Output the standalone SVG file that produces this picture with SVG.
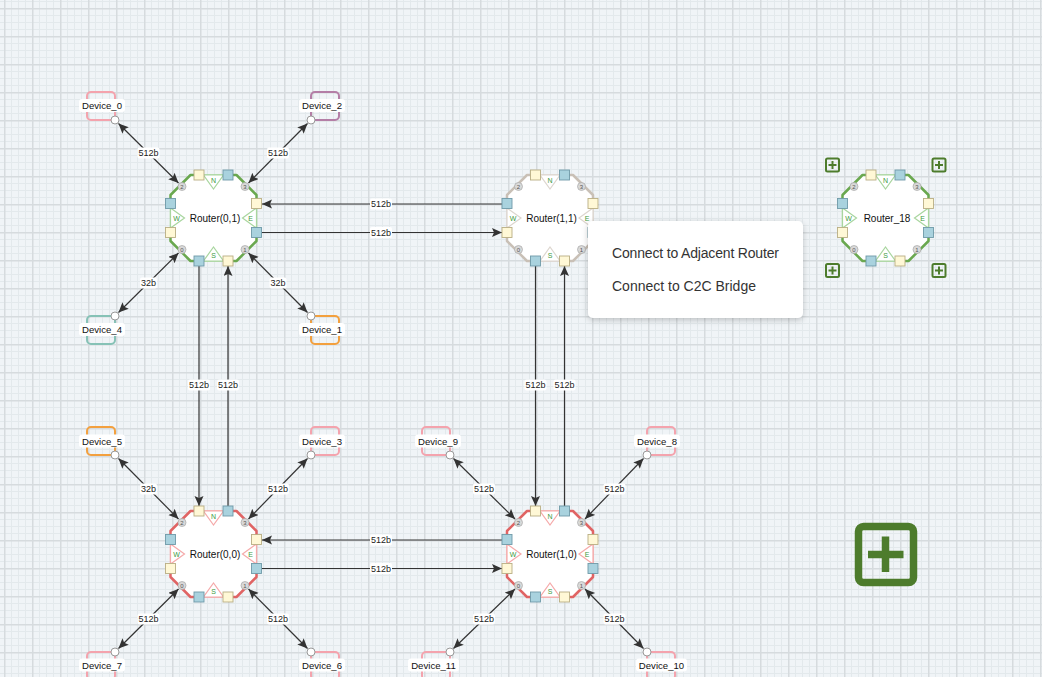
<svg xmlns="http://www.w3.org/2000/svg" xmlns:xlink="http://www.w3.org/1999/xlink" width="1042" height="684" viewBox="0 0 1042 684">
  <style>
    text { font-family: "Liberation Sans", Arial, sans-serif; stroke: none; }
    .rlabel { font-size: 10px; fill: #111; text-anchor: middle; dominant-baseline: central; }
    .dlabel { font-size: 9.6px; fill: #111; text-anchor: middle; dominant-baseline: central; }
    .dlabel-bg { fill: #fff; }
    .dbox { fill: none; stroke-width: 2; }
    .dport { fill: #fff; stroke: #999; stroke-width: 1; }
    .pink { stroke: #f4a3ad; }
    .purple { stroke: #b47ea6; }
    .teal { stroke: #86c2b6; }
    .orange { stroke: #f3a03e; }
    .link { stroke: #333; stroke-width: 1.2; fill: none; }
    .elabel { font-size: 9px; fill: #222; text-anchor: middle; dominant-baseline: central; }
    .elabel-bg { fill: #fff; }
    .dir { font-size: 7px; fill: #3d9a3d; stroke: none; text-anchor: middle; dominant-baseline: central; }
    .cnum { font-size: 6px; fill: #555; stroke: none; text-anchor: middle; dominant-baseline: central; }
    .menu-item { font-size: 14px; fill: #333; }
    .icon { fill: none; stroke: #4d7c2c; }
  </style>
  <defs>
    <pattern id="grid" x="4" y="8" width="28" height="28" patternUnits="userSpaceOnUse">
      <rect width="28" height="28" fill="#f0f4f7"/>
      <rect x="7" y="0" width="1" height="28" fill="#e3e9ec"/>
      <rect x="14" y="0" width="1" height="28" fill="#e3e9ec"/>
      <rect x="21" y="0" width="1" height="28" fill="#e3e9ec"/>
      <rect x="0" y="7" width="28" height="1" fill="#e3e9ec"/>
      <rect x="0" y="14" width="28" height="1" fill="#e3e9ec"/>
      <rect x="0" y="21" width="28" height="1" fill="#e3e9ec"/>
      <rect x="0" y="0" width="1.5" height="28" fill="#d6dbde"/>
      <rect x="0" y="0" width="28" height="1.5" fill="#d6dbde"/>
    </pattern>
    <marker id="arrow" markerUnits="userSpaceOnUse" markerWidth="12" markerHeight="10" refX="10" refY="4.5" orient="auto-start-reverse">
      <path d="M0,0 L10,4.5 L0,9 L2,4.5 Z" fill="#333"/>
    </marker>
    <filter id="shadow" x="-10%" y="-20%" width="120%" height="150%">
      <feDropShadow dx="0" dy="2" stdDeviation="3" flood-color="#000" flood-opacity="0.22"/>
    </filter>
    <!-- router body: border colour from `color`, triangle outline from `stroke` -->
    <g id="router-body">
      <polygon points="-23,-43 23,-43 43,-23 43,23 23,43 -23,43 -43,23 -43,-23" fill="#fff" stroke="none"/>
      <path d="M-14.5,-43 H-23 L-43,-23 V-14.5 M-43,14.5 V23 L-23,43 H-14.5 M14.5,43 H23 L43,23 V14.5 M43,-14.5 V-23 L23,-43 H14.5" fill="none" stroke="currentColor" stroke-width="2.5" stroke-linejoin="round"/>
      <path d="M-14.5,-43 H14.5 M-14.5,43 H14.5 M-43,-14.5 V14.5 M43,-14.5 V14.5" fill="none" stroke-width="1.4"/>
      <path d="M-10,-43 L10,-43 L0,-29 Z M-10,43 L10,43 L0,29 Z M-43,-10 L-43,10 L-29,0 Z M43,-10 L43,10 L29,0 Z" fill="#fff" stroke-width="1.2" stroke-linejoin="miter"/>
      <text class="dir" x="0" y="-37.5">N</text>
      <text class="dir" x="0" y="37.5">S</text>
      <text class="dir" x="-37" y="0.5">W</text>
      <text class="dir" x="37" y="0.5">E</text>
      <!-- ports: cream = in, blue = out -->
      <g stroke-width="0.9">
        <rect x="-19.5" y="-48" width="10" height="10" fill="#fff8d6" stroke="#b9ae84"/>
        <rect x="9.5" y="-48" width="10" height="10" fill="#a9d2de" stroke="#6f9aa8"/>
        <rect x="-48" y="-19.5" width="10" height="10" fill="#a9d2de" stroke="#6f9aa8"/>
        <rect x="-48" y="9.5" width="10" height="10" fill="#fff8d6" stroke="#b9ae84"/>
        <rect x="38" y="-19.5" width="10" height="10" fill="#fff8d6" stroke="#b9ae84"/>
        <rect x="38" y="9.5" width="10" height="10" fill="#a9d2de" stroke="#6f9aa8"/>
        <rect x="-19.5" y="38" width="10" height="10" fill="#a9d2de" stroke="#6f9aa8"/>
        <rect x="9.5" y="38" width="10" height="10" fill="#fff8d6" stroke="#b9ae84"/>
      </g>
      <g fill="#d9d9d9" stroke="#a8a8a8" stroke-width="0.7">
        <circle cx="-31.5" cy="-31.5" r="4"/>
        <circle cx="31.5" cy="-31.5" r="4"/>
        <circle cx="-31.5" cy="31.5" r="4"/>
        <circle cx="31.5" cy="31.5" r="4"/>
      </g>
      <text class="cnum" x="-31.5" y="-31.5">2</text>
      <text class="cnum" x="31.5" y="-31.5">3</text>
      <text class="cnum" x="-31.5" y="31.5">0</text>
      <text class="cnum" x="31.5" y="31.5">1</text>
    </g>
    <g id="plus-small">
      <rect x="-6.5" y="-6.5" width="13" height="13" rx="1.5" class="icon" stroke-width="2"/>
      <path d="M-4,0 H4 M0,-4 V4" class="icon" stroke-width="2"/>
    </g>
  </defs>

  <!-- canvas -->
  <rect width="1042" height="684" fill="url(#grid)"/>

  <!-- connectors -->
  <g id="connectors">
    <!-- device links, Router(0,1) -->
    <line class="link" x1="118.5" y1="123.5" x2="178.5" y2="183" marker-start="url(#arrow)" marker-end="url(#arrow)"/>
    <line class="link" x1="307.5" y1="123.5" x2="248.5" y2="183" marker-start="url(#arrow)" marker-end="url(#arrow)"/>
    <line class="link" x1="118.5" y1="312.5" x2="178.5" y2="253" marker-start="url(#arrow)" marker-end="url(#arrow)"/>
    <line class="link" x1="307.5" y1="312.5" x2="248.5" y2="253" marker-start="url(#arrow)" marker-end="url(#arrow)"/>
    <!-- device links, Router(0,0) -->
    <line class="link" x1="118.5" y1="458.5" x2="178.5" y2="519" marker-start="url(#arrow)" marker-end="url(#arrow)"/>
    <line class="link" x1="307.5" y1="458.5" x2="248.5" y2="519" marker-start="url(#arrow)" marker-end="url(#arrow)"/>
    <line class="link" x1="118.5" y1="648.5" x2="178.5" y2="589" marker-start="url(#arrow)" marker-end="url(#arrow)"/>
    <line class="link" x1="307.5" y1="648.5" x2="248.5" y2="589" marker-start="url(#arrow)" marker-end="url(#arrow)"/>
    <!-- device links, Router(1,0) -->
    <line class="link" x1="453.5" y1="458.5" x2="515" y2="519" marker-start="url(#arrow)" marker-end="url(#arrow)"/>
    <line class="link" x1="643.5" y1="458.5" x2="585" y2="519" marker-start="url(#arrow)" marker-end="url(#arrow)"/>
    <line class="link" x1="453.5" y1="648.5" x2="515" y2="589" marker-start="url(#arrow)" marker-end="url(#arrow)"/>
    <line class="link" x1="643.5" y1="648.5" x2="585" y2="589" marker-start="url(#arrow)" marker-end="url(#arrow)"/>
    <!-- router to router -->
    <line class="link" x1="502" y1="204" x2="262" y2="204" marker-end="url(#arrow)"/>
    <line class="link" x1="262" y1="232.5" x2="502" y2="232.5" marker-end="url(#arrow)"/>
    <line class="link" x1="199" y1="266" x2="199" y2="506" marker-end="url(#arrow)"/>
    <line class="link" x1="228" y1="506" x2="228" y2="266" marker-end="url(#arrow)"/>
    <line class="link" x1="535.5" y1="266" x2="535.5" y2="506" marker-end="url(#arrow)"/>
    <line class="link" x1="564.5" y1="506" x2="564.5" y2="266" marker-end="url(#arrow)"/>
    <line class="link" x1="502" y1="540" x2="262" y2="540" marker-end="url(#arrow)"/>
    <line class="link" x1="262" y1="568.5" x2="502" y2="568.5" marker-end="url(#arrow)"/>

    <!-- width labels -->
    <g>
      <rect class="elabel-bg" x="137.5" y="147.5" width="22" height="11" rx="2"/><text class="elabel" x="148.5" y="153">512b</text>
      <rect class="elabel-bg" x="267" y="147.5" width="22" height="11" rx="2"/><text class="elabel" x="278" y="153">512b</text>
      <rect class="elabel-bg" x="140" y="277.5" width="17" height="11" rx="2"/><text class="elabel" x="148.5" y="283">32b</text>
      <rect class="elabel-bg" x="269.5" y="277.5" width="17" height="11" rx="2"/><text class="elabel" x="278" y="283">32b</text>
      <rect class="elabel-bg" x="140" y="483.5" width="17" height="11" rx="2"/><text class="elabel" x="148.5" y="489">32b</text>
      <rect class="elabel-bg" x="267" y="483.5" width="22" height="11" rx="2"/><text class="elabel" x="278" y="489">512b</text>
      <rect class="elabel-bg" x="137.5" y="613.5" width="22" height="11" rx="2"/><text class="elabel" x="148.5" y="619">512b</text>
      <rect class="elabel-bg" x="267" y="613.5" width="22" height="11" rx="2"/><text class="elabel" x="278" y="619">512b</text>
      <rect class="elabel-bg" x="473" y="483.5" width="22" height="11" rx="2"/><text class="elabel" x="484" y="489">512b</text>
      <rect class="elabel-bg" x="603.5" y="483.5" width="22" height="11" rx="2"/><text class="elabel" x="614.5" y="489">512b</text>
      <rect class="elabel-bg" x="473" y="613.5" width="22" height="11" rx="2"/><text class="elabel" x="484" y="619">512b</text>
      <rect class="elabel-bg" x="603.5" y="613.5" width="22" height="11" rx="2"/><text class="elabel" x="614.5" y="619">512b</text>
      <rect class="elabel-bg" x="370" y="198.5" width="22" height="11" rx="2"/><text class="elabel" x="381" y="204">512b</text>
      <rect class="elabel-bg" x="370" y="227" width="22" height="11" rx="2"/><text class="elabel" x="381" y="232.5">512b</text>
      <rect class="elabel-bg" x="188" y="379.5" width="22" height="11" rx="2"/><text class="elabel" x="199" y="385">512b</text>
      <rect class="elabel-bg" x="217" y="379.5" width="22" height="11" rx="2"/><text class="elabel" x="228" y="385">512b</text>
      <rect class="elabel-bg" x="524.5" y="379.5" width="22" height="11" rx="2"/><text class="elabel" x="535.5" y="385">512b</text>
      <rect class="elabel-bg" x="553.5" y="379.5" width="22" height="11" rx="2"/><text class="elabel" x="564.5" y="385">512b</text>
      <rect class="elabel-bg" x="370" y="534.5" width="22" height="11" rx="2"/><text class="elabel" x="381" y="540">512b</text>
      <rect class="elabel-bg" x="370" y="563" width="22" height="11" rx="2"/><text class="elabel" x="381" y="568.5">512b</text>
    </g>
  </g>

  <!-- routers -->
  <g id="router-0-1">
    <use href="#router-body" x="213.5" y="218" color="#6aa84f" stroke="#a9d69f"/>
    <text class="rlabel" x="215" y="218">Router(0,1)</text>
  </g>
  <g id="router-1-1">
    <use href="#router-body" x="550" y="218" color="#c9c0b6" stroke="#ddd6cf"/>
    <text class="rlabel" x="551.5" y="218">Router(1,1)</text>
  </g>
  <g id="router-0-0">
    <use href="#router-body" x="213.5" y="554" color="#e06464" stroke="#f5aaaa"/>
    <text class="rlabel" x="215" y="554">Router(0,0)</text>
  </g>
  <g id="router-1-0">
    <use href="#router-body" x="550" y="554" color="#e06464" stroke="#f5aaaa"/>
    <text class="rlabel" x="551.5" y="554">Router(1,0)</text>
  </g>
  <g id="router-18">
    <use href="#router-body" x="885.5" y="218" color="#6aa84f" stroke="#a9d69f"/>
    <text class="rlabel" x="887" y="218">Router_18</text>
    <use href="#plus-small" x="832.5" y="165"/>
    <use href="#plus-small" x="939" y="165"/>
    <use href="#plus-small" x="832.5" y="270.5"/>
    <use href="#plus-small" x="939" y="270.5"/>
  </g>

  <!-- devices -->
  <g id="device-0">
    <rect class="dbox pink" x="87" y="92" width="28" height="28" rx="4"/>
    <rect class="dlabel-bg" x="79" y="99" width="46" height="13" rx="3"/>
    <text class="dlabel" x="102" y="105.5">Device_0</text>
    <circle class="dport" cx="115" cy="120" r="4"/>
  </g>
  <g id="device-2">
    <rect class="dbox purple" x="311" y="92" width="28" height="28" rx="4"/>
    <rect class="dlabel-bg" x="299" y="99" width="46" height="13" rx="3"/>
    <text class="dlabel" x="322" y="105.5">Device_2</text>
    <circle class="dport" cx="311" cy="120" r="4"/>
  </g>
  <g id="device-4">
    <rect class="dbox teal" x="87" y="316" width="28" height="28" rx="4"/>
    <rect class="dlabel-bg" x="79" y="323" width="46" height="13" rx="3"/>
    <text class="dlabel" x="102" y="329.5">Device_4</text>
    <circle class="dport" cx="115" cy="316" r="4"/>
  </g>
  <g id="device-1">
    <rect class="dbox orange" x="311" y="316" width="28" height="28" rx="4"/>
    <rect class="dlabel-bg" x="299" y="323" width="46" height="13" rx="3"/>
    <text class="dlabel" x="322" y="329.5">Device_1</text>
    <circle class="dport" cx="311" cy="316" r="4"/>
  </g>
  <g id="device-5">
    <rect class="dbox orange" x="87" y="427" width="28" height="28" rx="4"/>
    <rect class="dlabel-bg" x="79" y="434.5" width="46" height="13" rx="3"/>
    <text class="dlabel" x="102" y="441">Device_5</text>
    <circle class="dport" cx="115" cy="455" r="4"/>
  </g>
  <g id="device-3">
    <rect class="dbox pink" x="311" y="427" width="28" height="28" rx="4"/>
    <rect class="dlabel-bg" x="299" y="434.5" width="46" height="13" rx="3"/>
    <text class="dlabel" x="322" y="441">Device_3</text>
    <circle class="dport" cx="311" cy="455" r="4"/>
  </g>
  <g id="device-9">
    <rect class="dbox pink" x="422" y="427" width="28" height="28" rx="4"/>
    <rect class="dlabel-bg" x="415" y="434.5" width="46" height="13" rx="3"/>
    <text class="dlabel" x="438" y="441">Device_9</text>
    <circle class="dport" cx="450" cy="455" r="4"/>
  </g>
  <g id="device-8">
    <rect class="dbox pink" x="647" y="427" width="28" height="28" rx="4"/>
    <rect class="dlabel-bg" x="634" y="434.5" width="46" height="13" rx="3"/>
    <text class="dlabel" x="657" y="441">Device_8</text>
    <circle class="dport" cx="647" cy="455" r="4"/>
  </g>
  <g id="device-7">
    <rect class="dbox pink" x="87" y="652" width="28" height="28" rx="4"/>
    <rect class="dlabel-bg" x="79" y="658.5" width="46" height="13" rx="3"/>
    <text class="dlabel" x="102" y="665">Device_7</text>
    <circle class="dport" cx="115" cy="652" r="4"/>
  </g>
  <g id="device-6">
    <rect class="dbox pink" x="311" y="652" width="28" height="28" rx="4"/>
    <rect class="dlabel-bg" x="299" y="658.5" width="46" height="13" rx="3"/>
    <text class="dlabel" x="322" y="665">Device_6</text>
    <circle class="dport" cx="311" cy="652" r="4"/>
  </g>
  <g id="device-11">
    <rect class="dbox pink" x="422" y="652" width="28" height="28" rx="4"/>
    <rect class="dlabel-bg" x="408" y="658.5" width="51" height="13" rx="3"/>
    <text class="dlabel" x="433.5" y="665">Device_11</text>
    <circle class="dport" cx="450" cy="652" r="4"/>
  </g>
  <g id="device-10">
    <rect class="dbox pink" x="647" y="652" width="28" height="28" rx="4"/>
    <rect class="dlabel-bg" x="636" y="658.5" width="51" height="13" rx="3"/>
    <text class="dlabel" x="661.5" y="665">Device_10</text>
    <circle class="dport" cx="647" cy="652" r="4"/>
  </g>

  <!-- add-router button -->
  <g id="add-button">
    <rect x="858.5" y="526.5" width="55" height="56" rx="5" class="icon" stroke-width="7.5"/>
    <path d="M868,554.5 H903.5 M885.5,536.5 V572" class="icon" stroke-width="7.5"/>
  </g>

  <!-- context menu -->
  <g id="context-menu">
    <rect x="588" y="221" width="215" height="97" rx="5" fill="#fff" filter="url(#shadow)"/>
    <text class="menu-item" x="612" y="257.5" textLength="167">Connect to Adjacent Router</text>
    <text class="menu-item" x="612" y="290.5">Connect to C2C Bridge</text>
  </g>

  <!-- bottom edge -->
  <rect x="0" y="677" width="1042" height="7" fill="#fff"/>
</svg>
